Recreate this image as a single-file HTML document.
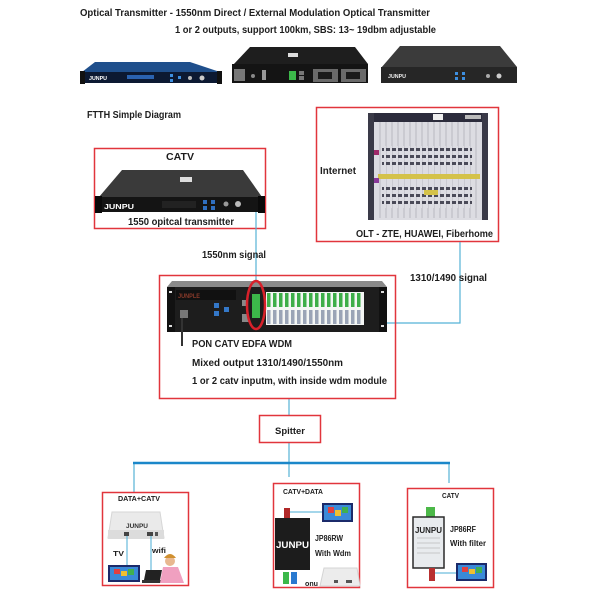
<!DOCTYPE html>
<html><head><meta charset="utf-8"><style>
html,body{margin:0;padding:0;background:#fff;width:600px;height:600px;overflow:hidden}
svg{display:block}
text{font-family:"Liberation Sans",Arial,sans-serif;font-weight:bold;fill:#1d1d1d}
</style></head><body>
<svg width="600" height="600" viewBox="0 0 600 600" xmlns="http://www.w3.org/2000/svg">
<rect width="600" height="600" fill="#fff"/>

<!-- Header text -->
<text x="80" y="16" font-size="10.5" textLength="350" lengthAdjust="spacingAndGlyphs">Optical Transmitter - 1550nm Direct / External Modulation Optical Transmitter</text>
<text x="175" y="33" font-size="10.5" textLength="261" lengthAdjust="spacingAndGlyphs">1 or 2 outputs, support 100km, SBS: 13~ 19dbm adjustable</text>

<!-- Device 1 (blue) -->
<polygon points="95,62 190,62 220,72 82,72" fill="#1f4f8c"/>
<rect x="80" y="72" width="142" height="11" fill="#0c1932"/>
<rect x="80" y="71" width="5" height="13" fill="#111"/>
<rect x="217" y="71" width="5" height="13" fill="#111"/>
<text x="89" y="80" font-size="5.5" style="fill:#fff" textLength="18" lengthAdjust="spacingAndGlyphs">JUNPU</text>
<rect x="127" y="75" width="27" height="4" fill="#2a62b0"/>
<rect x="170" y="74" width="3" height="3" fill="#3d8fe0"/>
<rect x="170" y="79" width="3" height="3" fill="#3d8fe0"/>
<rect x="178" y="76" width="3" height="3" fill="#3d8fe0"/>
<circle cx="190" cy="78" r="2" fill="#bbb"/>
<circle cx="202" cy="78" r="2.5" fill="#ccc"/>

<!-- Device 2 (black) -->
<polygon points="250,47 355,47 368,64 233,65" fill="#1e1e1e"/>
<rect x="288" y="53" width="10" height="4" fill="#ddd"/>
<rect x="232" y="64" width="136" height="19" fill="#141414"/>
<rect x="234" y="69" width="11" height="12" fill="#777"/>
<circle cx="253" cy="76" r="2" fill="#888"/>
<rect x="262" y="70" width="4" height="10" fill="#999"/>
<rect x="289" y="71" width="7" height="9" fill="#3cb84a"/>
<rect x="299" y="71" width="5" height="4" fill="#777"/>
<rect x="299" y="76" width="5" height="4" fill="#777"/>
<rect x="313" y="69" width="25" height="13" fill="#6a6a6a"/>
<rect x="318" y="72" width="14" height="7" fill="#1a1a1a"/>
<rect x="341" y="69" width="25" height="13" fill="#6a6a6a"/>
<rect x="346" y="72" width="14" height="7" fill="#1a1a1a"/>

<!-- Device 3 (gray) -->
<polygon points="400,46 500,46 517,67 381,68" fill="#3b3b3b"/>
<rect x="381" y="67" width="136" height="16" fill="#262626"/>
<text x="388" y="78" font-size="5.5" style="fill:#eee" textLength="18" lengthAdjust="spacingAndGlyphs">JUNPU</text>
<rect x="455" y="72" width="3" height="3" fill="#3d8fe0"/>
<rect x="455" y="77" width="3" height="3" fill="#3d8fe0"/>
<rect x="462" y="72" width="3" height="3" fill="#3d8fe0"/>
<rect x="462" y="77" width="3" height="3" fill="#3d8fe0"/>
<circle cx="488" cy="76" r="2" fill="#aaa"/>
<circle cx="499" cy="76" r="2.5" fill="#ccc"/>

<text x="87" y="118" font-size="10" textLength="94" lengthAdjust="spacingAndGlyphs">FTTH Simple Diagram</text>

<!-- CATV box -->
<rect x="94.5" y="148.5" width="171" height="80" fill="none" stroke="#e1353c" stroke-width="1.5"/>
<text x="180" y="160" font-size="10" text-anchor="middle" textLength="28" lengthAdjust="spacingAndGlyphs">CATV</text>
<polygon points="122,170 243,170 262,197 99,197" fill="#3a3a3a"/>
<rect x="180" y="177" width="12" height="5" fill="#ddd"/>
<rect x="95" y="197" width="170" height="15" fill="#141414"/>
<rect x="95" y="196" width="7" height="17" fill="#0a0a0a"/>
<rect x="258" y="196" width="7" height="17" fill="#0a0a0a"/>
<text x="104" y="209" font-size="7" style="fill:#fff" textLength="30" lengthAdjust="spacingAndGlyphs">JUNPU</text>
<rect x="162" y="201" width="34" height="7" fill="#222"/>
<rect x="203" y="200" width="4" height="4" fill="#2f6fc0"/>
<rect x="203" y="206" width="4" height="4" fill="#2f6fc0"/>
<rect x="211" y="200" width="4" height="4" fill="#2f6fc0"/>
<rect x="211" y="206" width="4" height="4" fill="#2f6fc0"/>
<circle cx="226" cy="204" r="2.5" fill="#999"/>
<circle cx="238" cy="204" r="3" fill="#bbb"/>
<text x="128" y="225" font-size="10" textLength="106" lengthAdjust="spacingAndGlyphs">1550 opitcal transmitter</text>

<!-- OLT box -->
<rect x="316.5" y="107.5" width="182" height="134" fill="none" stroke="#e1353c" stroke-width="1.5"/>
<text x="320" y="174" font-size="10" textLength="36" lengthAdjust="spacingAndGlyphs">Internet</text>
<g>
<rect x="368" y="113" width="120" height="107" fill="#dcdce2"/>
<rect x="368" y="113" width="120" height="9" fill="#2c2c3c"/>
<rect x="368" y="113" width="6" height="107" fill="#3a3a48"/>
<rect x="482" y="113" width="6" height="107" fill="#3a3a48"/>
<rect x="433" y="114" width="10" height="6" fill="#eee"/>
<rect x="465" y="115" width="16" height="4" fill="#bbb"/>
<g stroke="#b8b8c0" stroke-width="1">
<line x1="380" y1="122" x2="380" y2="218"/><line x1="386" y1="122" x2="386" y2="218"/><line x1="392" y1="122" x2="392" y2="218"/><line x1="398" y1="122" x2="398" y2="218"/><line x1="404" y1="122" x2="404" y2="218"/><line x1="410" y1="122" x2="410" y2="218"/><line x1="416" y1="122" x2="416" y2="218"/><line x1="422" y1="122" x2="422" y2="218"/><line x1="428" y1="122" x2="428" y2="218"/><line x1="434" y1="122" x2="434" y2="218"/><line x1="440" y1="122" x2="440" y2="218"/><line x1="446" y1="122" x2="446" y2="218"/><line x1="452" y1="122" x2="452" y2="218"/><line x1="458" y1="122" x2="458" y2="218"/><line x1="464" y1="122" x2="464" y2="218"/><line x1="470" y1="122" x2="470" y2="218"/><line x1="476" y1="122" x2="476" y2="218"/>
</g>
<g fill="#4a4a58">
<rect x="382" y="148" width="90" height="3"/><rect x="382" y="155" width="90" height="3"/><rect x="382" y="162" width="90" height="3"/>
<rect x="382" y="187" width="90" height="3"/><rect x="382" y="194" width="90" height="3"/><rect x="382" y="201" width="90" height="3"/>
</g>
<g fill="#dcdce2">
<rect x="384" y="146" width="2" height="62"/><rect x="390" y="146" width="2" height="62"/><rect x="396" y="146" width="2" height="62"/><rect x="402" y="146" width="2" height="62"/><rect x="408" y="146" width="2" height="62"/><rect x="414" y="146" width="2" height="62"/><rect x="420" y="146" width="2" height="62"/><rect x="426" y="146" width="2" height="62"/><rect x="432" y="146" width="2" height="62"/><rect x="438" y="146" width="2" height="62"/><rect x="444" y="146" width="2" height="62"/><rect x="450" y="146" width="2" height="62"/><rect x="456" y="146" width="2" height="62"/><rect x="462" y="146" width="2" height="62"/><rect x="468" y="146" width="2" height="62"/>
</g>
<rect x="378" y="174" width="102" height="5" fill="#d4c24a"/>
<rect x="424" y="190" width="14" height="5" fill="#d4c24a"/>
<rect x="374" y="150" width="5" height="5" fill="#a02a6a"/>
<rect x="374" y="178" width="5" height="5" fill="#8a3a9a"/>
</g>
<text x="356" y="237" font-size="10" textLength="137" lengthAdjust="spacingAndGlyphs">OLT - ZTE, HUAWEI, Fiberhome</text>

<!-- connectors -->
<g stroke="#55b2d6" stroke-width="1.2" fill="none">
<line x1="256" y1="212" x2="256" y2="283"/>
<polyline points="460,242 460,323 367,323"/>
<line x1="289" y1="399" x2="289" y2="415"/>
<line x1="289" y1="443" x2="289" y2="477"/>
<line x1="134" y1="463" x2="134" y2="492"/>
<line x1="449" y1="463" x2="449" y2="483"/>
</g>
<line x1="133" y1="463" x2="450" y2="463" stroke="#1b87c9" stroke-width="2.5"/>
<text x="202" y="258" font-size="10" textLength="64" lengthAdjust="spacingAndGlyphs">1550nm signal</text>
<text x="410" y="281" font-size="10" textLength="77" lengthAdjust="spacingAndGlyphs">1310/1490 signal</text>

<!-- EDFA box -->
<rect x="159.5" y="275.5" width="236" height="123" fill="none" stroke="#e1353c" stroke-width="1.5"/>
<polygon points="172,281 382,281 387,287 167,287" fill="#8a8a8a"/>
<rect x="167" y="287" width="220" height="45" fill="#1d1d1d"/>
<rect x="167" y="287" width="8" height="45" fill="#111"/>
<rect x="379" y="287" width="8" height="45" fill="#111"/>
<rect x="169" y="291" width="3" height="2" fill="#ddd"/>
<rect x="381" y="291" width="3" height="2" fill="#ddd"/>
<rect x="169" y="325" width="3" height="2" fill="#ddd"/>
<rect x="381" y="325" width="3" height="2" fill="#ddd"/>
<rect x="176" y="290" width="60" height="10" fill="#111"/>
<text x="178" y="298" font-size="6" style="fill:#8a3a2a" textLength="22" lengthAdjust="spacingAndGlyphs">JUNPLE</text>
<rect x="180" y="310" width="8" height="8" fill="#777"/>
<line x1="182" y1="318" x2="182" y2="346" stroke="#333" stroke-width="2"/>
<rect x="214" y="303" width="5" height="5" fill="#3478c8"/>
<rect x="214" y="311" width="5" height="5" fill="#3478c8"/>
<rect x="224" y="307" width="5" height="5" fill="#3478c8"/>
<rect x="242" y="300" width="6" height="6" fill="#888"/>
<rect x="242" y="314" width="7" height="8" fill="#888"/>
<rect x="252" y="294" width="8" height="24" fill="#3cb84a"/>
<g>
<rect x="266" y="292" width="98" height="33" fill="#f4f6f4"/>
<g fill="#3dae48">
<rect x="267" y="293" width="3.5" height="14"/><rect x="273" y="293" width="3.5" height="14"/><rect x="279" y="293" width="3.5" height="14"/><rect x="285" y="293" width="3.5" height="14"/><rect x="291" y="293" width="3.5" height="14"/><rect x="297" y="293" width="3.5" height="14"/><rect x="303" y="293" width="3.5" height="14"/><rect x="309" y="293" width="3.5" height="14"/><rect x="315" y="293" width="3.5" height="14"/><rect x="321" y="293" width="3.5" height="14"/><rect x="327" y="293" width="3.5" height="14"/><rect x="333" y="293" width="3.5" height="14"/><rect x="339" y="293" width="3.5" height="14"/><rect x="345" y="293" width="3.5" height="14"/><rect x="351" y="293" width="3.5" height="14"/><rect x="357" y="293" width="3.5" height="14"/>
</g>
<g fill="#9aa4b6">
<rect x="267" y="310" width="3.5" height="14"/><rect x="273" y="310" width="3.5" height="14"/><rect x="279" y="310" width="3.5" height="14"/><rect x="285" y="310" width="3.5" height="14"/><rect x="291" y="310" width="3.5" height="14"/><rect x="297" y="310" width="3.5" height="14"/><rect x="303" y="310" width="3.5" height="14"/><rect x="309" y="310" width="3.5" height="14"/><rect x="315" y="310" width="3.5" height="14"/><rect x="321" y="310" width="3.5" height="14"/><rect x="327" y="310" width="3.5" height="14"/><rect x="333" y="310" width="3.5" height="14"/><rect x="339" y="310" width="3.5" height="14"/><rect x="345" y="310" width="3.5" height="14"/><rect x="351" y="310" width="3.5" height="14"/><rect x="357" y="310" width="3.5" height="14"/>
</g>
</g>
<ellipse cx="256" cy="305" rx="9" ry="24" fill="none" stroke="#d8202a" stroke-width="2.5"/>
<text x="192" y="347" font-size="10" textLength="100" lengthAdjust="spacingAndGlyphs">PON CATV EDFA WDM</text>
<text x="192" y="366" font-size="10" textLength="151" lengthAdjust="spacingAndGlyphs">Mixed output 1310/1490/1550nm</text>
<text x="192" y="384" font-size="10" textLength="195" lengthAdjust="spacingAndGlyphs">1 or 2 catv inputm, with inside wdm module</text>

<!-- Splitter -->
<rect x="259.5" y="415.5" width="61" height="27" fill="#fff" stroke="#e1353c" stroke-width="1.5"/>
<text x="275" y="434" font-size="9.5" textLength="30" lengthAdjust="spacingAndGlyphs">Spitter</text>

<!-- Left bottom box -->
<rect x="102.5" y="492.5" width="86" height="93" fill="none" stroke="#e1353c" stroke-width="1.5"/>
<text x="118" y="501" font-size="7.5" textLength="42" lengthAdjust="spacingAndGlyphs">DATA+CATV</text>
<polygon points="112,512 160,512 164,538 108,538" fill="#eaeaea" stroke="#d6d6d6"/>
<rect x="108" y="530" width="56" height="9" fill="#dcdcdc"/>
<text x="126" y="528" font-size="6" style="fill:#333" textLength="22" lengthAdjust="spacingAndGlyphs">JUNPU</text>
<rect x="124" y="532" width="5" height="4" fill="#444"/>
<rect x="147" y="532" width="6" height="4" fill="#444"/>
<rect x="155" y="532" width="3" height="4" fill="#555"/>
<line x1="127" y1="536" x2="127" y2="565" stroke="#4aaed4" stroke-width="1"/>
<line x1="151" y1="536" x2="151" y2="571" stroke="#4aaed4" stroke-width="1"/>
<text x="113" y="556" font-size="7" textLength="11" lengthAdjust="spacingAndGlyphs">TV</text>
<text x="152" y="553" font-size="7" textLength="14" lengthAdjust="spacingAndGlyphs">wifi</text>
<rect x="108" y="565" width="32" height="17" fill="#1b2a6a"/>
<rect x="110" y="567" width="28" height="13" fill="#3a8ad8"/>
<rect x="114" y="569" width="6" height="5" fill="#e04040"/>
<rect x="121" y="571" width="6" height="5" fill="#f0c030"/>
<rect x="128" y="569" width="6" height="6" fill="#40b050"/>
<polygon points="146,570 162,570 160,580 144,580" fill="#222"/>
<rect x="142" y="580" width="22" height="3" fill="#333"/>
<circle cx="170" cy="561" r="5" fill="#e8b890"/>
<path d="M164,558 q6,-8 12,0" fill="#d09030"/>
<polygon points="163,567 178,567 184,583 160,583" fill="#f0a0c0"/>

<!-- Middle bottom box -->
<rect x="273.5" y="483.5" width="86" height="104" fill="none" stroke="#e1353c" stroke-width="1.5"/>
<text x="283" y="494" font-size="7.5" textLength="40" lengthAdjust="spacingAndGlyphs">CATV+DATA</text>
<rect x="284" y="508" width="6" height="10" fill="#b02828"/>
<line x1="290" y1="512" x2="322" y2="512" stroke="#4aaed4" stroke-width="1"/>
<rect x="322" y="503" width="31" height="19" fill="#1b2a6a"/>
<rect x="324" y="505" width="27" height="15" fill="#3a8ad8"/>
<rect x="328" y="507" width="6" height="6" fill="#e04040"/>
<rect x="335" y="510" width="6" height="6" fill="#f0c030"/>
<rect x="342" y="507" width="6" height="6" fill="#40b050"/>
<rect x="275" y="518" width="35" height="52" fill="#1c1c1c"/>
<text x="276" y="548" font-size="9" style="fill:#fff" textLength="33" lengthAdjust="spacingAndGlyphs">JUNPU</text>
<rect x="283" y="572" width="6" height="12" fill="#3cb84a"/>
<rect x="291" y="572" width="6" height="12" fill="#2a7ad0"/>
<text x="315" y="541" font-size="8" textLength="28" lengthAdjust="spacingAndGlyphs">JP86RW</text>
<text x="315" y="556" font-size="8" textLength="36" lengthAdjust="spacingAndGlyphs">With Wdm</text>
<text x="305" y="586" font-size="7.5" textLength="13" lengthAdjust="spacingAndGlyphs">onu</text>
<polygon points="324,568 357,568 360,586 320,586" fill="#ececec" stroke="#d4d4d4"/>
<rect x="334" y="580" width="4" height="3" fill="#555"/>
<rect x="346" y="580" width="6" height="3" fill="#555"/>

<!-- Right bottom box -->
<rect x="407.5" y="488.5" width="86" height="99" fill="none" stroke="#e1353c" stroke-width="1.5"/>
<text x="442" y="498" font-size="7.5" textLength="17" lengthAdjust="spacingAndGlyphs">CATV</text>
<rect x="426" y="507" width="9" height="10" fill="#4cb848"/>
<rect x="413" y="517" width="31" height="51" fill="#e8ebee" stroke="#2a2a2a" stroke-width="1.5"/>
<text x="415" y="533" font-size="8" style="fill:#222" textLength="27" lengthAdjust="spacingAndGlyphs">JUNPU</text>
<g stroke="#bbb" stroke-width="0.8"><line x1="417" y1="538" x2="440" y2="538"/><line x1="417" y1="543" x2="440" y2="543"/><line x1="417" y1="548" x2="440" y2="548"/><line x1="417" y1="553" x2="440" y2="553"/></g>
<rect x="429" y="568" width="6" height="13" fill="#b83030"/>
<line x1="435" y1="573" x2="456" y2="573" stroke="#4aaed4" stroke-width="1"/>
<text x="450" y="532" font-size="8" textLength="26" lengthAdjust="spacingAndGlyphs">JP86RF</text>
<text x="450" y="546" font-size="8" textLength="36" lengthAdjust="spacingAndGlyphs">With filter</text>
<rect x="456" y="563" width="31" height="18" fill="#1b2a6a"/>
<rect x="458" y="565" width="27" height="14" fill="#3a8ad8"/>
<rect x="462" y="567" width="6" height="5" fill="#e04040"/>
<rect x="469" y="569" width="6" height="5" fill="#f0c030"/>
<rect x="476" y="567" width="6" height="6" fill="#40b050"/>
</svg>
</body></html>
